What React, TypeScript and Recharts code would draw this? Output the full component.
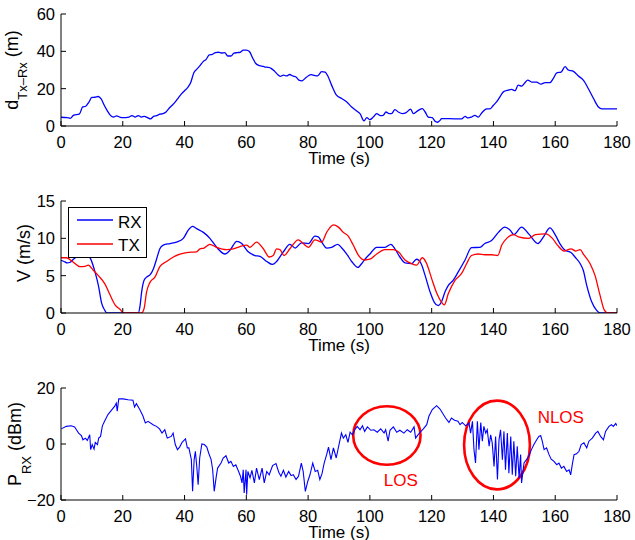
import React from 'react';
import { LineChart, Line, XAxis, YAxis, ReferenceArea, ReferenceDot, Legend } from 'recharts';

const FONT = '"Liberation Sans", Arial, Helvetica, sans-serif';

// ---------- tick labels ----------
const timeTicks = [0, 20, 40, 60, 80, 100, 120, 140, 160, 180];
const distTicks = [0, 20, 40, 60];
const speedTicks = [0, 5, 10, 15];
const powerTicks = [-20, 0, 20];

// ---------- panel 1: Tx-Rx distance ----------
const distTime = [0, 2, 3, 4, 6, 7, 8, 9, 10, 11, 12, 13, 14, 15, 16, 17, 18, 19, 20, 22, 23, 24, 25, 26, 27, 28, 29, 30, 31, 32, 33, 34, 35, 36, 37, 38, 39, 40, 41, 42, 43, 44, 45, 46, 47, 48, 49, 50, 51, 52, 53, 54, 55, 56, 57, 58, 59, 60, 61, 62, 63, 64, 65, 66, 67, 68, 69, 70, 71, 72, 73, 74, 75, 76, 77, 78, 79, 80, 81, 82, 83, 84.4, 85.5, 86.5, 87.6, 89.2, 90.9, 92.5, 94.1, 95.7, 96.8, 98.1, 99, 100, 101.1, 102.2, 103.3, 104.3, 105.2, 106.2, 107, 108.1, 109.2, 110.5, 111.6, 113.2, 114.1, 115.7, 117, 117.9, 118.9, 120.2, 121, 121.9, 122.7, 123.2, 125.4, 129.7, 130.8, 131.8, 132.9, 134, 135.1, 136.2, 137.8, 138.9, 140, 141, 142.1, 143.2, 144.8, 145.9, 147, 148, 149.1, 150.2, 151.1, 152.4, 154, 155.4, 156.7, 158.3, 159.4, 160.5, 161.9, 163.2, 164.2, 165.9, 167.5, 169.1, 170.7, 172.4, 174, 175.1, 180];
const distValue = [4.7, 4.5, 4.1, 5.7, 6.5, 10.2, 10.6, 12.7, 15.3, 15.4, 15.8, 14.5, 11.1, 8.1, 5.7, 4.8, 5.4, 4.8, 4.5, 4.8, 5.6, 4.8, 5.6, 4.8, 5.2, 4.5, 3.8, 5.2, 5.6, 6.3, 6.6, 7.5, 9.5, 11.1, 12.9, 15.1, 17.2, 18.9, 20.6, 23.3, 28.5, 30.5, 32.3, 34.5, 35.7, 38.1, 38.4, 39.3, 39.5, 39.1, 39.3, 37.5, 37.5, 39.0, 39.3, 39.5, 40.6, 40.7, 39.9, 36.6, 33.6, 32.5, 32.1, 31.6, 31.4, 30.9, 29.6, 27.8, 26.6, 27.3, 26.8, 27.6, 26.8, 26.4, 24.6, 24.2, 25.5, 26.8, 27.5, 27.1, 26.8, 29.1, 28.9, 26.4, 21.9, 16.5, 14.7, 12.9, 10.2, 8.1, 6.6, 2.7, 4.5, 3.4, 4.8, 6.6, 5.6, 5.7, 7.5, 6.6, 6.6, 8.8, 7.5, 6.6, 7.0, 9.0, 6.6, 8.4, 9.3, 7.5, 4.8, 4.5, 2.7, 2.0, 3.0, 3.9, 3.9, 3.8, 5.2, 4.3, 4.8, 5.7, 4.8, 7.0, 9.2, 9.2, 11.1, 12.9, 15.6, 18.3, 19.2, 19.6, 18.9, 21.9, 21.4, 23.2, 24.6, 23.5, 23.5, 22.4, 23.2, 23.2, 25.5, 28.5, 28.9, 31.8, 30.0, 29.3, 26.8, 24.6, 20.1, 14.7, 10.2, 9.2, 9.2];

// ---------- panel 2: speeds ----------
const rxTime = [0, 1, 2, 3, 4, 5, 6.7, 8, 9.4, 11, 12.1, 13.2, 14.2, 14.8, 25, 25.6, 26.1, 26.9, 27.7, 28.8, 29.9, 31, 32, 33.1, 35.3, 37.4, 39.6, 41.2, 42.6, 43.9, 46.1, 48.2, 50.4, 53.1, 54.7, 56.9, 58.5, 60.6, 62.8, 64.4, 66.6, 68.5, 69.8, 72, 74.1, 75.8, 77.9, 80.1, 82.2, 83.3, 84.4, 86, 87.6, 89.6, 90.9, 92.5, 94.1, 96.1, 97.3, 98.4, 100, 102.2, 104.9, 106.8, 108.1, 109.7, 111.4, 113.5, 115.1, 116.6, 117.9, 119.5, 120.9, 122.1, 123.2, 124.3, 125.4, 127, 128.6, 130.8, 132.9, 135.6, 137.2, 139.4, 141.6, 143.7, 145.4, 146.6, 149.1, 151.4, 154.4, 156.2, 158.3, 160.1, 161.5, 163.2, 165.1, 166.4, 168.1, 169.1, 170.2, 171.8, 173.4, 174.5, 180];
const rxSpeed = [7.05, 6.9, 6.7, 6.8, 7.2, 7.5, 7.7, 7.8, 7.4, 5.5, 3.7, 1.25, 0.35, 0, 0, 1.0, 2.8, 4.4, 4.8, 5.1, 5.9, 7.3, 8.6, 9.1, 9.3, 9.5, 10.0, 11.1, 11.6, 11.3, 10.8, 10.0, 8.8, 7.9, 8.4, 9.6, 9.3, 8.2, 7.7, 7.6, 6.9, 6.5, 6.9, 8.2, 9.2, 8.7, 9.4, 9.3, 10.3, 10.2, 9.5, 8.7, 8.8, 9.2, 8.7, 7.9, 6.9, 6.1, 6.6, 7.2, 7.9, 8.8, 8.8, 9.2, 8.6, 7.5, 6.7, 6.6, 7.2, 6.6, 5.0, 2.8, 1.4, 1.0, 1.5, 2.8, 3.7, 4.4, 5.5, 7.1, 8.75, 8.8, 9.3, 9.7, 10.8, 11.5, 11.1, 10.5, 11.5, 10.6, 9.3, 10.2, 11.4, 10.4, 9.3, 8.4, 8.1, 7.5, 6.6, 5.7, 3.7, 1.5, 0.36, 0, 0];
const txTime = [0, 1.8, 4, 6.1, 7.8, 8.8, 10.5, 12.1, 14.2, 15.9, 17.5, 19.1, 20.4, 26.1, 26.9, 27.7, 28.8, 30.4, 32, 34.2, 36.4, 38.5, 40.7, 43.9, 45, 46.3, 48.2, 50.4, 53.6, 55.8, 57.9, 60.1, 61.2, 63.3, 65.5, 67.4, 68.7, 69.8, 70.9, 72.2, 74.1, 76.8, 78.4, 80.1, 82.2, 84.4, 86, 88.2, 89.8, 91.4, 93, 94.6, 96.2, 98.4, 100, 102.2, 104.9, 107.6, 109.2, 111.4, 113.5, 115.1, 117, 118.4, 120, 121.7, 123.1, 124.1, 125.4, 127.6, 129.7, 131.3, 132.9, 135.1, 137.2, 139.4, 141.4, 142.7, 144.3, 146.5, 148.1, 151.4, 153.6, 156.9, 159.1, 160.7, 162.9, 165.1, 166.7, 168.1, 169.1, 171.3, 172.9, 174.5, 175.9, 177.2, 180];
const txSpeed = [7.4, 7.4, 6.8, 6.2, 6.25, 6.4, 5.7, 5.0, 3.9, 2.4, 1.1, 0.5, 0, 0, 0.6, 2.8, 4.1, 4.8, 6.2, 6.9, 7.5, 7.9, 8.1, 8.2, 8.6, 8.7, 9.2, 8.8, 8.5, 8.6, 8.9, 9.1, 8.8, 9.5, 8.6, 7.5, 7.7, 8.6, 8.5, 7.7, 8.6, 9.8, 9.3, 8.8, 9.8, 9.5, 10.8, 11.8, 11.5, 10.8, 10.3, 9.1, 7.8, 7.1, 7.2, 7.9, 8.5, 8.5, 8.2, 7.1, 6.6, 6.4, 7.4, 6.6, 4.6, 2.6, 1.5, 1.1, 2.6, 4.4, 5.3, 6.6, 7.7, 7.9, 7.8, 7.8, 7.7, 9.1, 10.0, 10.5, 10.2, 10.0, 10.5, 10.6, 10.0, 9.1, 8.3, 8.6, 8.3, 8.5, 7.9, 6.6, 5.0, 2.4, 0.4, 0, 0];

// ---------- panel 3: received power ----------
const powerTime = [0.1, 1.7, 3.3, 4.4, 5, 5.7, 6.6, 7.1, 7.9, 8.5, 9.3, 9.6, 10.1, 10.7, 11.1, 11.8, 12.2, 12.8, 13.4, 14.1, 15.2, 16.3, 17.4, 17.9, 18.2, 18.7, 20.1, 21.7, 23.3, 23.8, 24.4, 25.5, 26.5, 27.3, 28.2, 29.8, 30.9, 31.9, 32.7, 33.6, 34.4, 35.7, 36.3, 37, 37.7, 38.4, 39.2, 40.3, 40.9, 41.4, 42.2, 42.6, 43.1, 43.5, 44, 44.4, 44.9, 45.6, 46.4, 47.2, 47.8, 48.6, 49.1, 49.6, 50.2, 50.7, 51.8, 52.5, 53.4, 54.3, 55, 55.8, 56.6, 57.5, 58.1, 58.6, 59, 59.3, 59.9, 60.1, 60.5, 61.2, 61.8, 62.6, 63.3, 64.2, 65.1, 65.8, 66.6, 67.4, 68.5, 69.6, 70.5, 71.2, 72, 72.8, 73.7, 74.5, 75.2, 76.1, 76.9, 77.8, 78.4, 79.1, 79.9, 80.6, 81.5, 82.3, 83.1, 83.8, 84.5, 85.2, 86, 86.6, 87.4, 88.2, 89.1, 90, 90.8, 91.4, 92.2, 92.9, 93.6, 94.3, 95.1, 95.9, 96.8, 97.6, 98.3, 99.2, 100.3, 101.3, 102.4, 103.5, 104.6, 105.1, 105.9, 106.5, 107.6, 108.7, 109.7, 111, 112.1, 113.2, 114.3, 114.8, 115.4, 116.2, 117.3, 118.4, 119.1, 120.2, 121.6, 122.7, 123.5, 124.5, 125.6, 126.4, 127.4, 128.5, 129.2, 129.9, 131, 132.1, 132.6, 133.2, 133.7, 134.2, 134.8, 135.3, 135.9, 136.4, 136.9, 137.5, 138, 138.6, 139.1, 139.6, 140.2, 140.7, 141.3, 141.8, 142.3, 142.9, 143.4, 143.9, 144.5, 145, 145.6, 146.1, 146.6, 147.2, 147.7, 148.3, 148.8, 149.1, 149.9, 150.7, 151.5, 152.3, 153.1, 154, 154.7, 155.3, 155.8, 156.4, 157.2, 158, 158.7, 159.6, 160.5, 161.2, 162, 162.8, 163.7, 164.5, 165, 165.6, 166.1, 166.9, 167.7, 168.4, 169.3, 170.2, 170.9, 172, 173.1, 173.8, 174.7, 175.6, 176.3, 177.4, 178.2, 178.8, 179.6, 180];
const powerValue = [5.4, 6.3, 6.5, 6.1, 5.1, 3.9, 3.0, 1.5, 2.1, 1.3, 3.3, -2.0, -0.2, -1.8, 0.6, -0.2, 2.1, 2.7, 6.5, 8.1, 10.5, 12.0, 13.5, 14.6, 11.7, 16.1, 16.1, 15.8, 15.6, 13.2, 14.4, 12.3, 10.1, 7.5, 8.1, 6.9, 6.3, 5.4, 3.9, 5.1, 2.1, 2.7, 3.9, -0.2, -2.0, -1.1, 0.6, 1.8, -1.4, -1.4, -5.6, -16.9, -5.6, -2.6, -8.6, -14.5, -5.0, 0, -0.2, -1.1, -3.2, -5.6, -9.2, -16.9, -12.1, -8.6, -6.8, -5.0, -4.2, -6.8, -6.2, -8.0, -7.4, -9.8, -11.5, -13.9, -9.2, -17.5, -9.2, -18.1, -9.8, -12.1, -9.4, -13.9, -8.6, -12.7, -8.6, -13.9, -9.8, -11.0, -7.7, -7.0, -10.1, -11.5, -9.4, -11.8, -9.8, -11.3, -11.0, -12.7, -11.5, -6.8, -9.8, -16.9, -13.3, -11.0, -6.8, -9.8, -9.4, -12.7, -10.6, -6.8, -3.8, -1.1, -5.6, -1.4, -5.0, -0.2, 3.9, 2.1, 3.3, 0.6, 4.2, 3.3, 5.1, 6.3, 5.1, 6.5, 4.5, 6.1, 4.9, 5.1, 4.2, 5.4, 3.9, 5.1, 1.0, 4.9, 6.1, 4.2, 4.9, 3.9, 5.1, 4.2, 6.1, 2.1, 3.0, 4.2, 5.4, 6.9, 9.9, 12.3, 13.7, 12.5, 11.1, 9.3, 7.7, 9.3, 8.5, 8.1, 6.9, 7.7, 6.5, 7.5, 3.9, 8.1, -2.0, -6.8, 8.1, -2.0, 7.7, 1.0, 6.3, 3.9, 5.1, -0.8, 3.3, 0.4, -8.0, 2.7, -12.7, 1.5, 5.1, -5.6, 4.5, -9.2, 3.9, -10.4, 2.7, -11.0, 1.0, -11.5, -0.8, -12.1, -3.8, -13.9, -6.8, -5.6, -4.2, -2.0, -0.2, 1.5, 2.7, 3.0, 1.0, -2.0, -1.4, -3.8, -5.4, -6.2, -7.4, -6.8, -8.6, -8.0, -9.8, -9.2, -11.0, -6.8, -3.8, -3.5, -2.6, -0.2, 0.4, -1.4, 1.0, 2.1, 3.9, 4.5, 2.7, 1.5, 4.5, 6.3, 6.9, 6.3, 7.3, 6.5];

// ---------- annotations (data coordinates) ----------
const losBox = { t1: 94.6, t2: 116.4, p1: -7.4, p2: 13.5 };
const nlosBox = { t1: 130.5, t2: 151.8, p1: -16.2, p2: 15.5 };
const losText = { t: 110, p: -12.8, text: 'LOS' };
const nlosText = { t: 161.8, p: 9.6, text: 'NLOS' };

const zip = (ts: number[], vs: number[]) => ts.map((t, i) => ({ t, v: vs[i] }));
const distData = zip(distTime, distValue);
const rxData = zip(rxTime, rxSpeed);
const txData = zip(txTime, txSpeed);
const powerData = zip(powerTime, powerValue);

const BLUE = '#0000ff';
const RED = '#ff0000';
const TICK = 5;
const TICK_FS = 16.5;

const fmt = (v: number) => (v < 0 ? '\u2212' + Math.abs(v) : String(v));

const BottomTick = (p: any) => (
  <g>
    <line x1={p.x} x2={p.x} y1={p.y} y2={p.y - TICK} stroke="#000" />
    <text x={p.x} y={p.y + 22} textAnchor="middle" fontSize={TICK_FS} fontFamily={FONT} fill="#000">
      {fmt(p.payload.value)}
    </text>
  </g>
);
const TopTick = (p: any) => <line x1={p.x} x2={p.x} y1={p.y} y2={p.y + TICK} stroke="#000" />;
const LeftTick = (p: any) => (
  <g>
    <line x1={p.x} x2={p.x + TICK} y1={p.y} y2={p.y} stroke="#000" />
    <text x={p.x - 6} y={p.y + 6} textAnchor="end" fontSize={TICK_FS} fontFamily={FONT} fill="#000">
      {fmt(p.payload.value)}
    </text>
  </g>
);
const RightTick = (p: any) => <line x1={p.x} x2={p.x - TICK} y1={p.y} y2={p.y} stroke="#000" />;

const timeLabel = (dy: number) => ({
  content: (p: any) => {
    const vb = p.viewBox;
    return (
      <text x={vb.x + vb.width / 2} y={vb.y + dy} textAnchor="middle" fontSize={17} fontFamily={FONT} fill="#000">
        Time (s)
      </text>
    );
  },
});

const yLabel = (bx: number, shift: number, main: string, sub: string, rest: string, subDy: number) => ({
  content: (p: any) => {
    const vb = p.viewBox;
    const cy = vb.y + vb.height / 2 + shift;
    return (
      <text x={bx} y={cy} transform={`rotate(-90, ${bx}, ${cy})`} textAnchor="middle" fontSize={18} fontFamily={FONT} fill="#000">
        <tspan>{main}</tspan>
        {sub ? <tspan fontSize={13} dy={subDy}>{sub}</tspan> : null}
        <tspan dy={sub ? -subDy : 0}>{rest}</tspan>
      </text>
    );
  },
});

const Ellipse = (p: any) => (
  <ellipse
    cx={p.x + p.width / 2}
    cy={p.y + p.height / 2}
    rx={Math.abs(p.width) / 2}
    ry={Math.abs(p.height) / 2}
    fill="none"
    stroke={RED}
    strokeWidth={2.6}
  />
);

const commonX = {
  dataKey: 't',
  type: 'number' as const,
  domain: [0, 180],
  ticks: timeTicks,
  interval: 0 as const,
  allowDataOverflow: true,
  tickSize: 0,
  tickMargin: 0,
  tickLine: false,
  axisLine: { stroke: '#000' },
};

function renderAxes(yDomain: number[], yTicks: number[], ylab: any, labDy: number) {
  return [
    <XAxis key="xb" xAxisId="b" {...commonX} orientation="bottom" height={40} tick={<BottomTick />} label={timeLabel(labDy)} />,
    <XAxis key="xt" xAxisId="t" {...commonX} orientation="top" height={0} tick={<TopTick />} />,
    <YAxis key="yl" yAxisId="l" type="number" domain={yDomain} ticks={yTicks} interval={0} allowDataOverflow orientation="left" width={61} tickSize={0} tickMargin={0} tickLine={false} axisLine={{ stroke: '#000' }} tick={<LeftTick />} label={ylab} />,
    <YAxis key="yr" yAxisId="r" type="number" domain={yDomain} ticks={yTicks} interval={0} allowDataOverflow orientation="right" width={0} tickSize={0} tickMargin={0} tickLine={false} axisLine={{ stroke: '#000' }} tick={<RightTick />} />,
  ];
}

const LegendBox = (props: any) => {
  const items = props.payload || [];
  return (
    <svg width={79} height={51} style={{ display: 'block' }}>
      <rect x={0.5} y={0.5} width={78} height={50} fill="#fff" stroke="#000" />
      {items.map((it: any, i: number) => (
        <g key={i}>
          <line x1={9} x2={45} y1={13 + i * 24} y2={13 + i * 24} stroke={it.color} strokeWidth={1.3} />
          <text x={50} y={21 + i * 23} fontSize={17} fontFamily={FONT} fill="#000">
            {it.value}
          </text>
        </g>
      ))}
    </svg>
  );
};

export default function App() {
  return (
    <div style={{ position: 'absolute', left: 0, top: 0, width: 635, height: 540, background: '#fff', fontFamily: FONT }}>
      <div style={{ position: 'absolute', left: 0, top: 0 }}>
        <LineChart width={635} height={185} margin={{ top: 14, right: 18, bottom: 19, left: 0 }}>
          {renderAxes([0, 60], distTicks, yLabel(18, 0, 'd', 'Tx\u2013Rx', ' (m)', 9), 38)}
          <Line xAxisId="b" yAxisId="l" data={distData} dataKey="v" type="monotone" stroke={BLUE} strokeWidth={1.3} dot={false} isAnimationActive={false} />
        </LineChart>
      </div>
      <div style={{ position: 'absolute', left: 0, top: 185 }}>
        <LineChart width={635} height={185} margin={{ top: 16, right: 18, bottom: 17, left: 0 }}>
          {renderAxes([0, 15], speedTicks, yLabel(30, -4, 'V (m/s)', '', '', 0), 38)}
          <Line xAxisId="b" yAxisId="l" data={rxData} dataKey="v" name="RX" type="monotone" stroke={BLUE} strokeWidth={1.3} dot={false} isAnimationActive={false} />
          <Line xAxisId="b" yAxisId="l" data={txData} dataKey="v" name="TX" type="monotone" stroke={RED} strokeWidth={1.3} dot={false} isAnimationActive={false} />
          <Legend layout="vertical" align="center" verticalAlign="middle" wrapperStyle={{ left: 68, top: 22, width: 79, height: 51 }} content={<LegendBox />} />
        </LineChart>
      </div>
      <div style={{ position: 'absolute', left: 0, top: 370 }}>
        <LineChart width={635} height={170} margin={{ top: 18, right: 18, bottom: 0, left: 0 }}>
          {renderAxes([-20, 20], powerTicks, yLabel(21, 0, 'P', 'RX', ' (dBm)', 10), 37.5)}
          <Line xAxisId="b" yAxisId="l" data={powerData} dataKey="v" type="linear" stroke={BLUE} strokeWidth={1.1} dot={false} isAnimationActive={false} />
          <ReferenceArea xAxisId="b" yAxisId="l" x1={losBox.t1} x2={losBox.t2} y1={losBox.p1} y2={losBox.p2} shape={Ellipse} ifOverflow="visible" />
          <ReferenceArea xAxisId="b" yAxisId="l" x1={nlosBox.t1} x2={nlosBox.t2} y1={nlosBox.p1} y2={nlosBox.p2} shape={Ellipse} ifOverflow="visible" />
          <ReferenceDot xAxisId="b" yAxisId="l" x={losText.t} y={losText.p} r={0} fill="none" stroke="none" ifOverflow="visible" label={{ value: losText.text, position: 'center', fill: RED, fontSize: 17, fontFamily: FONT }} />
          <ReferenceDot xAxisId="b" yAxisId="l" x={nlosText.t} y={nlosText.p} r={0} fill="none" stroke="none" ifOverflow="visible" label={{ value: nlosText.text, position: 'center', fill: RED, fontSize: 17, fontFamily: FONT }} />
        </LineChart>
      </div>
    </div>
  );
}
